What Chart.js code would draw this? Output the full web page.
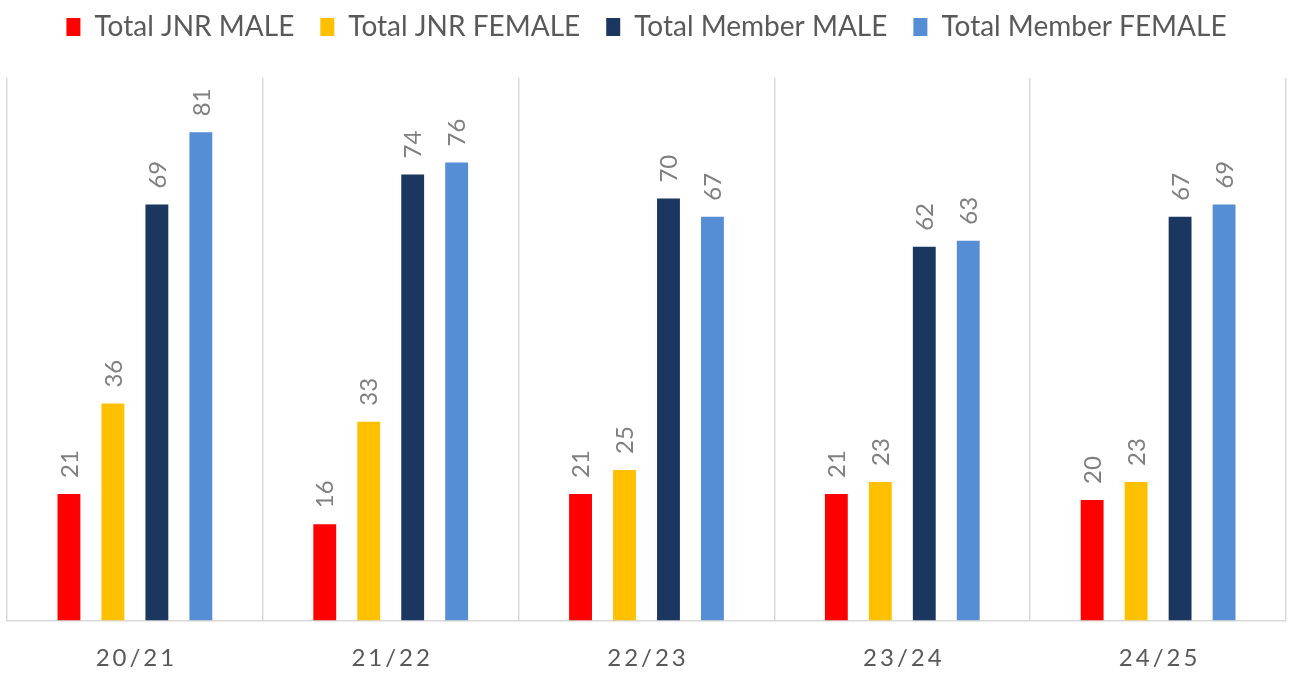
<!DOCTYPE html>
<html>
<head>
<meta charset="utf-8">
<script src="https://cdn.jsdelivr.net/npm/chart.js@4.4.0/dist/chart.umd.min.js"></script>
<style>
	html, body { margin: 0; padding: 0; background: #ffffff; }
	#wrap { width: 1293px; height: 673px; }
</style>
</head>
<body>
<div id="wrap"><canvas id="mycanvas"></canvas></div>
<script>
var seasons = ["20/21", "21/22", "22/23", "23/24", "24/25"];
var jnrMale = [21, 16, 21, 21, 20];
var jnrFemale = [36, 33, 25, 23, 23];
var memberMale = [69, 74, 70, 62, 67];
var memberFemale = [81, 76, 67, 63, 69];

var fontName = "Lato, 'Open Sans', sans-serif";

// rotated value labels above each bar
var barLabels = {
	id: 'barLabels',
	afterDatasetsDraw: function(chart) {
		var ctx = chart.ctx;
		ctx.save();
		ctx.fillStyle = "#7f7f7f";
		ctx.font = "24px " + fontName;
		ctx.textAlign = "left";
		ctx.textBaseline = "middle";
		chart.data.datasets.forEach(function(ds, i) {
			var meta = chart.getDatasetMeta(i);
			meta.data.forEach(function(bar, j) {
				ctx.save();
				ctx.translate(bar.x, bar.y - 16);
				ctx.rotate(-Math.PI / 2);
				ctx.fillText(ds.data[j], 0, 1);
				ctx.restore();
			});
		});
		ctx.restore();
	}
};

// x labels with letter spacing
var spacedTicks = {
	id: 'spacedTicks',
	afterDraw: function(chart) {
		var ctx = chart.ctx;
		var xs = chart.scales.x;
		ctx.save();
		ctx.fillStyle = "#595959";
		ctx.font = "24px " + fontName;
		ctx.letterSpacing = "3px";
		ctx.textAlign = "center";
		ctx.textBaseline = "middle";
		seasons.forEach(function(s, i) {
			ctx.fillText(s, xs.getPixelForValue(i) + 1.5, chart.chartArea.bottom + 38);
		});
		ctx.restore();
	}
};

// fixed legend band height, row moved up a bit
var legendHeight = {
	id: 'legendHeight',
	beforeInit: function(chart) {
		var fit = chart.legend.fit;
		var draw = chart.legend.draw;
		chart.legend.fit = function() {
			fit.call(this);
			this.height = 78;
		};
		chart.legend.draw = function() {
			var c = this.ctx;
			c.save();
			c.translate(0, -13);
			draw.call(this);
			c.restore();
		};
	}
};

var chartdata = {
	labels: seasons,
	datasets: [
		{ label: "Total JNR MALE", backgroundColor: "#ff0000", data: jnrMale },
		{ label: "Total JNR FEMALE", backgroundColor: "#ffc000", data: jnrFemale },
		{ label: "Total Member MALE", backgroundColor: "#1b365f", data: memberMale },
		{ label: "Total Member FEMALE", backgroundColor: "#558ed5", data: memberFemale }
	]
};

var ctx = document.getElementById("mycanvas");

var BarGraph = new Chart(ctx, {
	type: 'bar',
	data: chartdata,
	plugins: [barLabels, spacedTicks, legendHeight],
	options: {
		responsive: true,
		maintainAspectRatio: false,
		animation: false,
		layout: { padding: { left: 7, right: 7, top: 0, bottom: 0 } },
		datasets: {
			bar: { categoryPercentage: 0.6875, barPercentage: 0.52 }
		},
		plugins: {
			tooltip: { enabled: false },
			legend: {
				position: 'top',
				labels: {
					boxWidth: 14,
					boxHeight: 18,
					padding: 26,
					color: "#595959",
					font: { family: fontName, size: 28 }
				}
			}
		},
		scales: {
			x: {
				grid: { color: "#d9d9d9", lineWidth: 1.5, drawTicks: false, offset: true },
				border: { color: "#d9d9d9", width: 1.5 },
				ticks: { color: "rgba(0,0,0,0)", padding: 13, font: { size: 22 } }
			},
			y: {
				display: false,
				min: 0,
				max: 90
			}
		}
	}
});
</script>
</body>
</html>
